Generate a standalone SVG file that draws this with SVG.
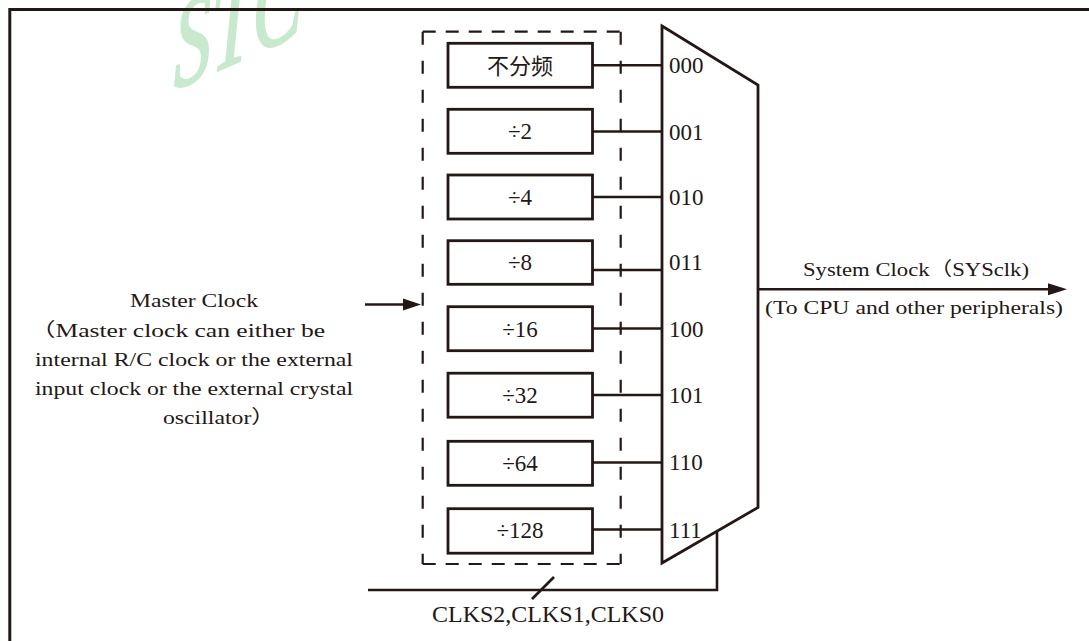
<svg xmlns="http://www.w3.org/2000/svg" width="1089" height="641" viewBox="0 0 1089 641">
<style>
.ln{stroke:#231815;stroke-width:2.6;fill:none}
.bx{stroke:#231815;stroke-width:2.8;fill:#fff}
.dh{stroke:#231815;stroke-width:2.2;fill:none;stroke-dasharray:13 10}
.dv{stroke:#231815;stroke-width:2.2;fill:none;stroke-dasharray:13 16}
.t{font-family:"Liberation Serif","Times New Roman","Noto Sans CJK SC",serif;fill:#231815}
.bl{font-size:23px;text-anchor:middle}
.ml{font-size:23px}
.st{font-size:19px}
.ah{fill:#231815}
</style>
<rect width="1089" height="641" fill="#fff"/>
<g id="watermark">
<text class="t" x="0" y="0" transform="translate(174,90) skewY(-24) scale(0.6,1)" font-size="124" font-style="italic" style="fill:#c8e9ce;stroke:#c8e9ce;stroke-width:2.5">STC</text>
</g>
<g id="frame">
<path class="ln" d="M9.8,641 V9.5 H1089" style="stroke-width:3"/>
</g>
<g id="divider-group">
<line class="dh" x1="422.7" y1="31.7" x2="620.7" y2="31.7"/>
<line class="dh" x1="422.7" y1="564" x2="620.7" y2="564"/>
<line class="dv" x1="422.7" y1="31.7" x2="422.7" y2="564"/>
<line class="dv" x1="620.7" y1="31.7" x2="620.7" y2="564"/>
</g>
<g id="connectors">
<line class="ln" x1="593" y1="65.3" x2="662" y2="65.3"/>
<line class="ln" x1="593" y1="131.5" x2="662" y2="131.5"/>
<line class="ln" x1="593" y1="197" x2="662" y2="197"/>
<line class="ln" x1="593" y1="270" x2="662" y2="270"/>
<line class="ln" x1="593" y1="328.5" x2="662" y2="328.5"/>
<line class="ln" x1="593" y1="395" x2="662" y2="395"/>
<line class="ln" x1="593" y1="462.5" x2="662" y2="462.5"/>
<line class="ln" x1="593" y1="529.5" x2="662" y2="529.5"/>
<line class="ln" x1="365" y1="304.5" x2="406" y2="304.5"/>
<polygon class="ah" points="421,304.5 403,298.5 403,310.5"/>
<line class="ln" x1="758" y1="289.3" x2="1052" y2="289.3"/>
<polygon class="ah" points="1067,289.3 1048,283.3 1048,295.3"/>
<polyline class="ln" points="368,590 717,590 717,531"/>
<line class="ln" x1="532" y1="599" x2="554" y2="577"/>
</g>
<g id="div1"><rect class="bx" x="448" y="43.3" width="144.5" height="44"/><text class="t bl" x="520" y="74" style="font-family:'Noto Sans CJK SC',sans-serif;font-size:22px">不分频</text></g>
<g id="div2"><rect class="bx" x="448" y="109.3" width="144.5" height="44"/><text class="t bl" x="520" y="139">÷2</text></g>
<g id="div4"><rect class="bx" x="448" y="175" width="144.5" height="44"/><text class="t bl" x="520" y="204.5">÷4</text></g>
<g id="div8"><rect class="bx" x="448" y="240.7" width="144.5" height="43.6"/><text class="t bl" x="520" y="270">÷8</text></g>
<g id="div16"><rect class="bx" x="448" y="306.7" width="144.5" height="44"/><text class="t bl" x="520" y="336.5">÷16</text></g>
<g id="div32"><rect class="bx" x="448" y="373.2" width="144.5" height="44"/><text class="t bl" x="520" y="403">÷32</text></g>
<g id="div64"><rect class="bx" x="448" y="441.3" width="144.5" height="44"/><text class="t bl" x="520" y="471">÷64</text></g>
<g id="div128"><rect class="bx" x="448" y="508.7" width="144.5" height="44.5"/><text class="t bl" x="520" y="538">÷128</text></g>
<g id="mux">
<polygon class="ln" points="662,26 758,85 758,507.5 662,563" style="stroke-width:2.8;fill:#fff"/>
<text class="t ml" x="669" y="73.3">000</text>
<text class="t ml" x="669" y="139.5">001</text>
<text class="t ml" x="669" y="205">010</text>
<text class="t ml" x="669" y="270">011</text>
<text class="t ml" x="669" y="336.5">100</text>
<text class="t ml" x="669" y="403">101</text>
<text class="t ml" x="669" y="470">110</text>
<text class="t ml" x="669" y="537.5">111</text>
</g>
<g id="master-clock">
<text class="t st" x="130" y="307" textLength="128" lengthAdjust="spacingAndGlyphs">Master Clock</text>
<text class="t st" x="30" y="337" textLength="295" lengthAdjust="spacingAndGlyphs">（Master clock can either be</text>
<text class="t st" x="35" y="366" textLength="318" lengthAdjust="spacingAndGlyphs">internal R/C clock or the external</text>
<text class="t st" x="35" y="395" textLength="318" lengthAdjust="spacingAndGlyphs">input clock or the external crystal</text>
<text class="t st" x="163" y="424" textLength="112" lengthAdjust="spacingAndGlyphs">oscillator）</text>
</g>
<g id="system-clock">
<text class="t st" x="803" y="276" textLength="226" lengthAdjust="spacingAndGlyphs">System Clock（SYSclk)</text>
<text class="t st" x="765" y="314" textLength="298" lengthAdjust="spacingAndGlyphs">(To CPU and other peripherals)</text>
</g>
<g id="select-label">
<text class="t" x="548" y="622" style="font-size:24px;text-anchor:middle">CLKS2,CLKS1,CLKS0</text>
</g>
</svg>
